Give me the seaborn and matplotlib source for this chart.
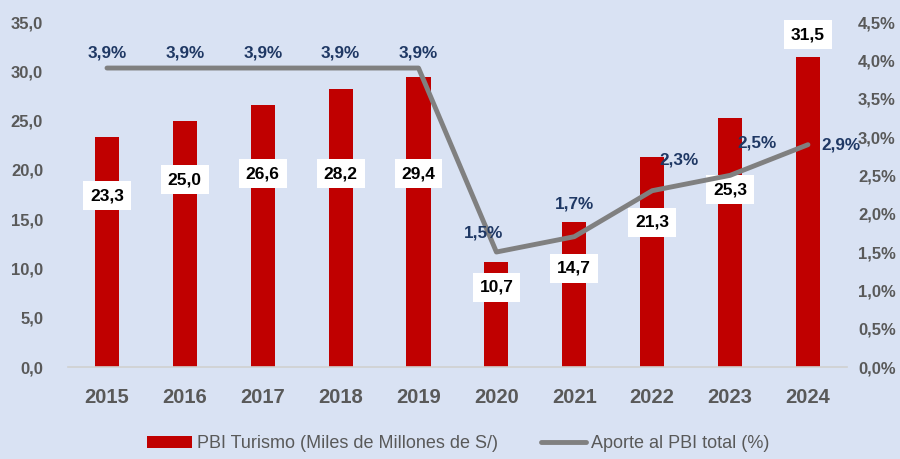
import numpy as np
import pandas as pd
import seaborn as sns
import matplotlib.pyplot as plt
from matplotlib.patches import Patch
from matplotlib.lines import Line2D

# Données
anios = ['2015', '2016', '2017', '2018', '2019', '2020', '2021', '2022', '2023', '2024']
pbi_turismo = [23.3, 25.0, 26.6, 28.2, 29.4, 10.7, 14.7, 21.3, 25.3, 31.5]
aporte_pbi = [3.9, 3.9, 3.9, 3.9, 3.9, 1.5, 1.7, 2.3, 2.5, 2.9]

fondo = '#D9E2F3'
rojo = '#C00000'
gris = '#808080'
azul = '#1F3864'
gris_txt = '#595959'

sns.set_theme(style='white')
plt.rcParams['font.family'] = ['Liberation Sans', 'DejaVu Sans']

df = pd.DataFrame({'anio': anios, 'pbi': pbi_turismo, 'aporte': aporte_pbi})
df['pos'] = np.arange(len(df))

fig = plt.figure(figsize=(9, 4.59), dpi=100, facecolor=fondo)
ax = fig.add_axes([0.0756, 0.2004, 0.8654, 0.7516])
ax.set_facecolor(fondo)

sns.barplot(data=df, x='anio', y='pbi', color=rojo, width=0.31, saturation=1,
            linewidth=0, ax=ax)
ax.set_ylim(0, 35)
ax.set_xlim(-0.5, len(df) - 0.5)
ax.set_yticks(np.arange(0, 35.1, 5))
ax.set_yticklabels([f'{v:.1f}'.replace('.', ',') for v in np.arange(0, 35.1, 5)])
ax.set_xlabel('')
ax.set_ylabel('')
for s in ['top', 'left', 'right']:
    ax.spines[s].set_visible(False)
ax.spines['bottom'].set_color('#D0D0D0')
ax.spines['bottom'].set_linewidth(1.2)
ax.tick_params(axis='y', length=0, labelcolor=gris_txt, labelsize=12, pad=18)
ax.tick_params(axis='x', length=0, labelcolor=gris_txt, labelsize=14.5, pad=15)
for t in ax.get_xticklabels() + ax.get_yticklabels():
    t.set_fontweight('bold')

ax2 = ax.twinx()
sns.lineplot(data=df, x='pos', y='aporte', color=gris, linewidth=3.5, ax=ax2)
ax2.set_ylim(0, 4.5)
ax2.set_yticks(np.arange(0, 4.51, 0.5))
ax2.set_yticklabels([f'{v:.1f}%'.replace('.', ',') for v in np.arange(0, 4.51, 0.5)])
ax2.set_ylabel('')
ax2.set_xlabel('')
for s in ax2.spines.values():
    s.set_visible(False)
ax2.tick_params(axis='y', length=0, labelcolor=gris_txt, labelsize=12, pad=8)
for t in ax2.get_yticklabels():
    t.set_fontweight('bold')

# etiquetas de barras (posición relativa al valor)
offs_bar = [-5.9, -6.0, -7.0, -8.6, -9.8, -2.6, -4.7, -6.6, -7.3, 2.2]
for i, (v, o) in enumerate(zip(pbi_turismo, offs_bar)):
    ax.text(i, v + o, f'{v:.1f}'.replace('.', ','), ha='center', va='center',
            fontsize=12.5, fontweight='bold', color='black',
            bbox=dict(facecolor='white', edgecolor='none', boxstyle='square,pad=0.4'))

# etiquetas de la línea
offs_lin = [(0, 0.2), (0, 0.2), (0, 0.2), (0, 0.2), (0, 0.2),
            (-0.17, 0.25), (0, 0.43), (0.35, 0.4), (0.35, 0.42), (0.42, 0.0)]
for i, (v, (dx, dy)) in enumerate(zip(aporte_pbi, offs_lin)):
    ax2.text(i + dx, v + dy, f'{v:.1f}%'.replace('.', ','), ha='center', va='center',
             fontsize=12.3, fontweight='bold', color=azul)

handles = [Patch(facecolor=rojo, edgecolor='none'),
           Line2D([0], [0], color=gris, linewidth=3.5)]
fig.legend(handles, ['PBI Turismo (Miles de Millones de S/)', 'Aporte al PBI total (%)'],
           loc='center', bbox_to_anchor=(0.509, 0.033), ncol=2, frameon=False,
           fontsize=13, handlelength=2.5, handleheight=0.6, columnspacing=2.4,
           handletextpad=0.28, labelcolor=gris_txt)

fig.savefig('out.png', dpi=100, facecolor=fondo)
